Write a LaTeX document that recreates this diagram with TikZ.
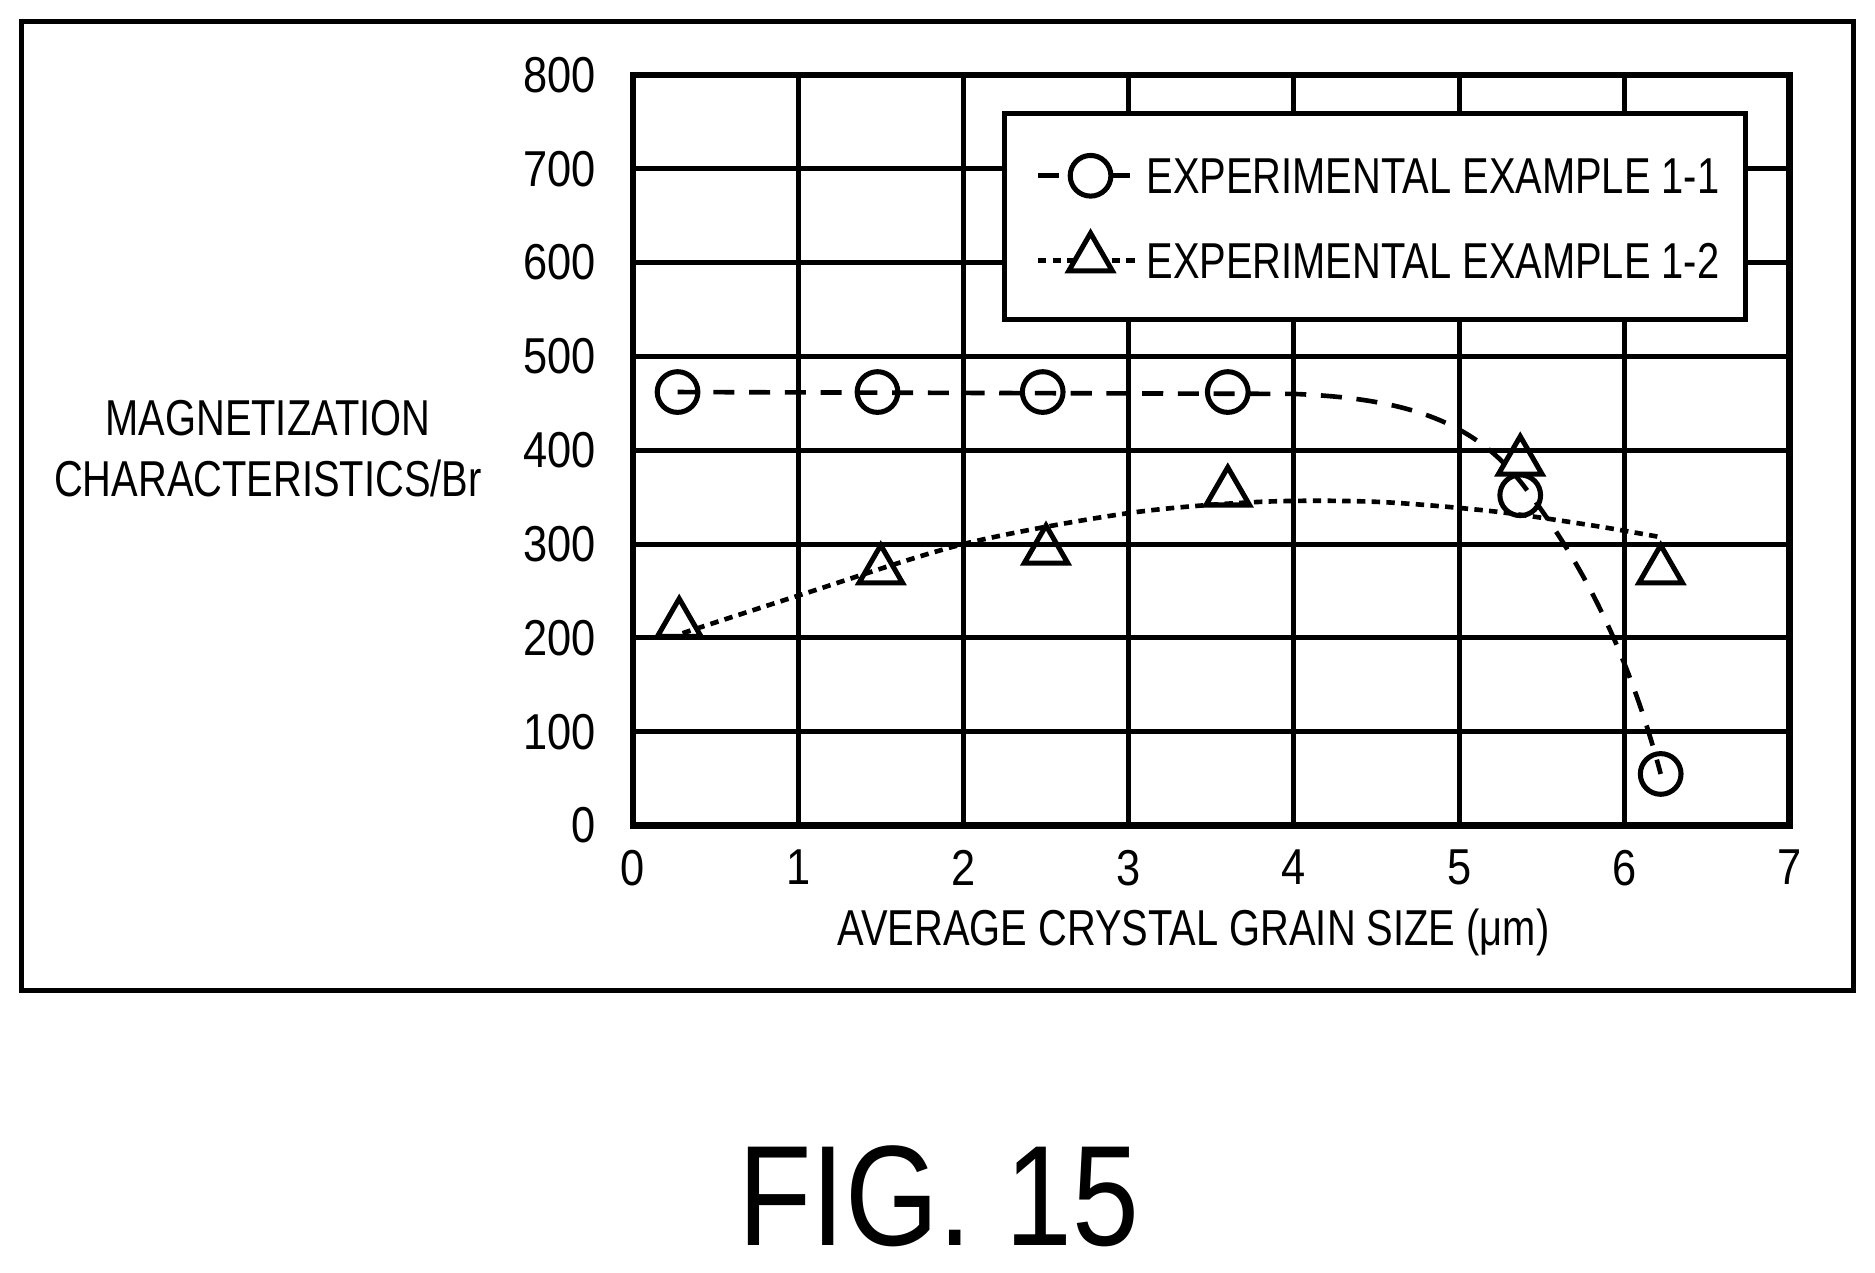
\documentclass[tikz,border=0pt]{standalone}
\usepackage{fontspec}
\setmainfont{Liberation Sans}
\usetikzlibrary{shapes.geometric}
\newcommand{\nar}[1]{\scalebox{0.79}[1]{#1}}
\begin{document}
\begin{tikzpicture}[x=0.01cm,y=-0.01cm,
  lbl/.style={font=\fontsize{12}{14}\selectfont,inner sep=0pt},
  circ/.style={circle,draw,line width=1.2pt,minimum size=0.34cm,inner sep=0pt},
  tri/.style={regular polygon,regular polygon sides=3,draw,line width=1.2pt,minimum size=0.42cm,inner sep=0pt},
  grid/.style={line width=1.2pt}]
\useasboundingbox (0,0) rectangle (1568,1064);
\draw[line width=1.2pt] (18,18) rectangle (1550,828);
\begin{scope}[shift={(5.29cm,-6.90cm)},x=1.381cm,y=0.00785cm]
 \foreach \i in {1,...,6} \draw[grid] (\i,0) -- (\i,800);
 \foreach \j in {100,200,...,700} \draw[grid] (0,\j) -- (7,\j);
 \draw[line width=1.5pt] (0,0) rectangle (7,800);
 \foreach \i in {0,...,7} \node[lbl,anchor=north] at (\i,-25) {\scalebox{0.86}[1]{\i}};
 \foreach \j in {0,100,...,800} \node[lbl,anchor=east] at (-0.22,\j) {\scalebox{0.86}[1]{\j}};
 \draw[line width=1.1pt,dash pattern=on 5pt off 3.5pt] (0.27,462) -- (4.0,460) .. controls (4.7,455) and (5.1,430) .. (5.4,360) .. controls (5.7,290) and (6.0,200) .. (6.22,55);
 \draw[line width=1.1pt,dash pattern=on 2pt off 1.5pt] plot[smooth] coordinates {(0.3,205) (1,245) (2,300) (3,333) (3.8,345) (4.5,345) (5.2,335) (5.8,320) (6.2,308)};
 \foreach \x/\y [count=\k] in {0.27/462,1.48/462,2.48/462,3.6/462,5.37/352,6.22/55}
   \node[circ] (c\k) at (\x,\y) {};
 \foreach \x/\y [count=\k] in {0.28/215,1.5/272,2.5/293,3.6/355,5.37/388,6.22/272}
   \node[tri] (t\k) at (\x,\y) {};
\end{scope}
\draw[line width=1.2pt,fill=white] (840,95) rectangle (1460,267);
\coordinate (la) at (868,147); \coordinate (lb) at (952,147);
\draw[line width=1.1pt,dash pattern=on 5pt off 3.5pt] (la) -- (lb);
\node[circ,fill=white] (lc) at (912,147) {};
\coordinate (lc2) at (868,218); \coordinate (ld2) at (952,218);
\draw[line width=1.1pt,dash pattern=on 2pt off 1.5pt] (lc2) -- (ld2);
\node[tri,fill=white] (lt) at (912,216) {};
\node[lbl,anchor=west] (l1) at (958,147) {\nar{EXPERIMENTAL EXAMPLE 1-1}};
\node[lbl,anchor=west] (l2) at (958,218) {\nar{EXPERIMENTAL EXAMPLE 1-2}};
\node[lbl] (ya) at (224,350) {\nar{MAGNETIZATION}};
\node[lbl] (yb) at (224,400) {\nar{CHARACTERISTICS/Br}};
\node[lbl] (xa) at (998,780) {\nar{AVERAGE CRYSTAL GRAIN SIZE (μm)}};
\node[font=\fontsize{34}{38}\selectfont,inner sep=0pt] (fig) at (785,1000) {\scalebox{0.84}[1]{FIG. 15}};
\end{tikzpicture}
\end{document}
